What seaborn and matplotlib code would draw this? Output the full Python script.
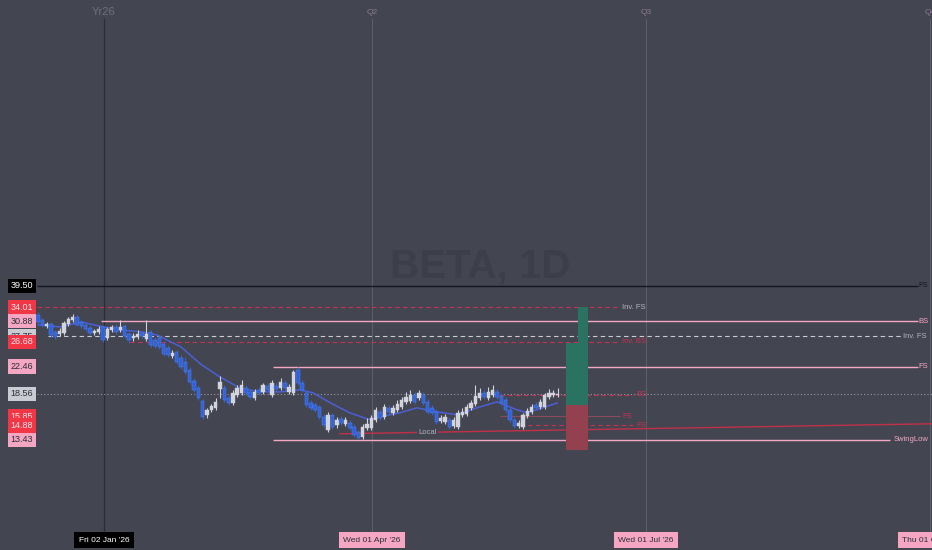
import numpy as np
import pandas as pd
import matplotlib
matplotlib.use("Agg")
import matplotlib.pyplot as plt
import matplotlib.transforms as mtransforms
import seaborn as sns

# ----------------------
# Candles (daily bars, bar index 0..120)
# ----------------------
opens = [32.24, 31.13, 29.85, 30.27, 28.62, 28.22, 28.42, 30.27, 31.13, 31.79,
         30.69, 30.06, 29.43, 28.42, 28.62, 29.64, 27.44, 29.02, 29.64, 29.02,
         29.85, 28.22, 27.44, 27.63, 28.42, 27.25, 28.62, 27.06, 27.44, 26.31,
         25.59, 24.19, 24.88, 23.86, 23.20, 21.94, 20.31, 19.34, 17.66, 16.02,
         16.59, 16.82, 19.21, 19.34, 18.04, 17.42, 18.42, 18.68, 19.34, 18.81,
         18.04, 19.08, 18.81, 19.62, 18.42, 19.62, 19.34, 20.03, 18.81, 18.68,
         21.94, 20.03, 18.68, 17.42, 17.18, 16.94, 15.79, 14.42, 16.02, 14.93,
         15.57, 15.04, 15.14, 14.72, 14.22, 13.73, 14.62, 14.62, 15.46, 16.36,
         15.79, 16.82, 16.24, 16.59, 16.94, 17.54, 17.66, 18.42, 18.04, 18.42,
         17.54, 16.82, 16.36, 15.36, 15.25, 15.46, 14.83, 14.72, 16.02, 16.13,
         16.82, 17.30, 18.04, 18.68, 18.04, 18.42, 18.81, 18.29, 17.79, 16.59,
         15.46, 14.83, 14.72, 15.90, 16.36, 17.18, 16.94, 16.94, 18.17, 18.42, 18.42]
highs = [32.92, 31.56, 30.69, 30.69, 29.02, 29.43, 30.91, 31.79, 32.46, 32.24,
         31.13, 30.48, 30.06, 29.23, 29.85, 30.06, 29.64, 30.06, 30.27, 31.13,
         30.27, 28.62, 28.42, 29.02, 28.82, 31.13, 29.02, 27.63, 27.83, 26.87,
         26.13, 25.23, 25.23, 24.36, 24.03, 22.40, 20.75, 19.75, 17.91, 16.82,
         17.30, 18.04, 21.04, 19.75, 18.42, 19.08, 19.75, 20.46, 19.75, 19.21,
         19.21, 19.48, 20.03, 20.03, 20.46, 20.03, 20.75, 20.46, 19.89, 21.94,
         22.40, 20.46, 19.08, 17.79, 17.54, 17.18, 16.13, 16.36, 16.24, 15.79,
         15.90, 15.79, 15.46, 15.04, 14.42, 15.04, 15.68, 16.02, 16.94, 16.70,
         17.30, 17.18, 17.18, 17.79, 18.17, 18.81, 19.08, 18.81, 19.08, 18.81,
         17.91, 17.18, 16.70, 16.02, 16.13, 15.79, 15.79, 16.59, 16.82, 17.30,
         17.79, 19.75, 19.34, 19.08, 19.48, 19.75, 19.21, 18.68, 18.17, 16.94,
         15.79, 15.46, 16.24, 16.82, 17.30, 17.54, 17.91, 18.68, 19.21, 19.08, 19.34]
lows = [30.27, 29.64, 29.43, 27.63, 27.25, 27.83, 28.02, 29.85, 30.69, 29.85,
        29.43, 28.82, 28.02, 28.02, 28.22, 26.68, 27.06, 28.62, 28.22, 28.62,
        27.44, 26.50, 26.87, 27.25, 27.44, 26.87, 25.77, 25.59, 25.41, 24.19,
        24.03, 23.86, 22.88, 22.09, 21.33, 19.89, 18.81, 17.79, 15.57, 15.68,
        16.36, 16.59, 18.04, 17.54, 17.18, 17.18, 18.17, 18.42, 18.42, 17.91,
        17.79, 18.42, 18.55, 18.81, 18.17, 18.94, 19.08, 19.08, 18.55, 18.42,
        19.75, 18.81, 16.94, 16.59, 16.36, 15.57, 14.72, 14.22, 14.52, 14.62,
        14.93, 14.83, 14.42, 13.73, 13.50, 13.54, 14.42, 14.42, 15.25, 15.46,
        15.57, 16.13, 16.02, 16.36, 16.70, 17.30, 17.42, 17.30, 17.79, 17.18,
        16.13, 16.02, 15.04, 15.14, 15.04, 14.52, 14.62, 14.52, 15.79, 15.90,
        16.59, 17.06, 17.79, 17.91, 17.79, 18.17, 17.91, 17.18, 16.36, 15.25,
        14.62, 14.62, 14.52, 15.68, 16.13, 16.59, 16.70, 16.70, 17.91, 18.17, 18.17]
closes = [30.69, 30.06, 30.27, 28.02, 27.63, 28.82, 30.48, 31.34, 31.79, 30.06,
          29.85, 29.23, 28.42, 28.82, 29.23, 27.06, 29.23, 29.64, 28.62, 29.64,
          27.83, 27.06, 27.83, 28.22, 27.83, 28.22, 26.13, 25.95, 25.77, 24.54,
          24.36, 24.71, 23.20, 22.40, 21.63, 20.17, 19.08, 18.04, 15.79, 16.59,
          17.06, 17.54, 20.17, 17.79, 17.42, 18.68, 19.34, 19.75, 18.68, 18.17,
          18.81, 18.68, 19.75, 19.08, 20.03, 19.21, 20.17, 19.34, 19.48, 21.63,
          20.03, 19.08, 17.18, 16.82, 16.59, 15.79, 14.93, 16.02, 14.72, 15.46,
          15.14, 15.46, 14.62, 13.92, 13.63, 14.72, 15.04, 15.68, 16.59, 15.68,
          16.94, 16.36, 16.82, 17.30, 17.79, 18.17, 18.42, 17.54, 18.68, 17.42,
          16.36, 16.24, 15.25, 15.68, 15.79, 14.72, 15.46, 16.24, 16.36, 16.94,
          17.42, 18.29, 18.68, 18.17, 18.81, 19.08, 18.17, 17.42, 16.59, 15.46,
          14.83, 15.14, 16.02, 16.47, 16.94, 16.82, 17.54, 18.42, 18.68, 18.68, 18.56]

# moving average
ma_bar = [0, 5, 10, 14, 19, 24, 27.5, 33, 37.5, 42, 46.5, 51, 56, 60.5, 63.5,
          67.5, 72, 76.7, 79, 83.6, 87.5, 92, 96.8, 101.4, 106, 110.6, 113, 116.6, 120]
ma_val = [30.06, 29.64, 30.69, 29.85, 29.02, 28.62, 28.02, 25.77, 22.88, 20.89,
          19.34, 18.81, 18.81, 19.08, 18.68, 17.42, 16.24, 15.46, 15.79, 16.24,
          16.82, 16.36, 16.02, 16.82, 17.54, 16.59, 16.24, 16.82, 17.42]

# price scale labels
label_values = [39.50, 34.01, 30.88, 27.75, 26.68, 22.46, 18.56, 15.85, 14.88, 13.43]
label_kinds = ["black", "red", "pink", "gray", "red", "pink", "gray", "red", "red", "pink"]

# zone levels
bs_level = 18.45
trend_bars = [69.7, 206.5]
trend_vals = [14.02, 15.04]

# position tool
pos_entry = 17.18
pos_target = 34.01
pos_mid = 26.50
pos_stop = 12.52

# time axis
date_bars = [15.2, 77.1, 140.4, 206.0]
date_labels = ["Fri 02 Jan '26", "Wed 01 Apr '26", "Wed 01 Jul '26", "Thu 01 Oct '26"]
top_labels = ["Yr26", "Q2", "Q3", "Q4"]

# ----------------------
# Style
# ----------------------
BG = "#434651"
UP = "#d1d4dc"
DOWN = "#2f62dc"
PINK = "#f4a6c3"
RED = "#f23645"
REDLINE = "#c83252"
GRAYTXT = "#b2b5be"

sns.set_theme(style="dark", rc={"axes.facecolor": BG, "figure.facecolor": BG})
plt.rcParams["font.family"] = ["Liberation Sans", "DejaVu Sans"]

fig = plt.figure(figsize=(9.32, 5.5), dpi=100)
ax = fig.add_axes([0, 0, 1, 1])
ax.set_facecolor(BG)
ax.set_yscale("log")
ax.set_xlim(-8.8, 206.5)
ax.set_ylim(6.21, 293)
ax.set_xticks([])
ax.set_yticks([])
ax.minorticks_off()
for s in ax.spines.values():
    s.set_visible(False)

xt = mtransforms.blended_transform_factory(ax.transData, ax.transAxes)

# watermark
ax.text(0.515, 0.515, "BETA, 1D", transform=ax.transAxes, ha="center", va="center",
        fontsize=29, fontweight="bold", color="#3c3f49", zorder=0)

# ----------------------
# Vertical time lines
# ----------------------
for i, b in enumerate(date_bars):
    ax.axvline(b, ymin=0.03, ymax=0.965, color="#2a2d35" if i == 0 else "#5d606b",
               lw=0.9 if i == 0 else 0.7, zorder=1)
ax.text(date_bars[0], 0.978, top_labels[0], transform=xt, ha="center", va="center",
        fontsize=8, color="#6e717c")
for b, t in zip(date_bars[1:], top_labels[1:]):
    ax.text(b, 0.978, t, transform=xt, ha="center", va="center", fontsize=6, color="#8c7a92")

for i, (b, t) in enumerate(zip(date_bars, date_labels)):
    ax.text(b, 0.018, t, transform=xt, ha="center", va="center", fontsize=6,
            color="white" if i == 0 else "#2a2e39",
            bbox=dict(boxstyle="square,pad=0.55", fc="black" if i == 0 else PINK, ec="none"))

# ----------------------
# Levels
# ----------------------
ax.hlines(label_values[0], -0.2, 203.2, color="#131722", lw=1.0, zorder=2)
ax.hlines(label_values[1], -0.2, 133.7, color=REDLINE, lw=0.8, linestyles=(0, (4, 3)), zorder=2)
ax.hlines(label_values[2], 14.5, 203.2, color=PINK, lw=1.0, zorder=2)
ax.hlines(label_values[3], 2.3, 199.8, color="#c9ccd3", lw=0.8, linestyles=(0, (4, 3)), zorder=2)
ax.hlines(label_values[4], 21.2, 133.7, color=REDLINE, lw=0.8, linestyles=(0, (4, 3)), zorder=2)
ax.hlines(label_values[5], 54.3, 203.2, color=PINK, lw=1.0, zorder=2)
ax.hlines(label_values[6], -0.2, 206.5, color="#9598a1", lw=0.8, linestyles=(0, (1, 2)), zorder=2)
ax.hlines(bs_level, 106.7, 137.4, color=REDLINE, lw=0.8, linestyles=(0, (4, 3)), zorder=2)
ax.hlines(label_values[7], 106.7, 134.4, color="#8a4a5c", lw=0.8, zorder=2)
ax.hlines(label_values[8], 111.3, 137.4, color=REDLINE, lw=0.8, linestyles=(0, (4, 3)), zorder=2)
ax.hlines(label_values[9], 54.3, 196.8, color=PINK, lw=1.0, zorder=2)
ax.plot(trend_bars, trend_vals, color="#c23048", lw=1.0, zorder=2)
ax.text(90.0, 14.14, "Local", ha="center", va="center", fontsize=5.5, color=GRAYTXT,
        bbox=dict(boxstyle="square,pad=0.2", fc=BG, ec="none"), zorder=3)

# right-hand level names
ax.text(205.6, label_values[0], "FS", ha="right", va="center", fontsize=5.5, color="#131722")
ax.text(205.6, label_values[2], "BS", ha="right", va="center", fontsize=5.5, color=PINK)
ax.text(205.3, label_values[3], "Inv. FS", ha="right", va="center", fontsize=5.5, color=GRAYTXT)
ax.text(205.6, label_values[5], "FS", ha="right", va="center", fontsize=5.5, color=PINK)
ax.text(205.6, label_values[9], "SwingLow", ha="right", va="center", fontsize=5.5, color=PINK)

# zone names
ax.text(134.9, label_values[1], "Inv. FS", ha="left", va="center", fontsize=5.5, color=GRAYTXT)
ax.text(134.9, label_values[4], "Inv. BS", ha="left", va="center", fontsize=5.5, color=REDLINE)
ax.text(138.1, bs_level, "BS", ha="left", va="center", fontsize=5.5, color=REDLINE)
ax.text(134.9, label_values[7], "FS", ha="left", va="center", fontsize=5.5, color=REDLINE)
ax.text(138.1, label_values[8], "FS", ha="left", va="center", fontsize=5.5, color=REDLINE)

# ----------------------
# Position tool
# ----------------------
ax.fill_between([124.7, 127.0], pos_entry, pos_target, color="#2a7362", lw=0, zorder=2)
ax.fill_between([121.9, 127.0], pos_entry, pos_mid, color="#2a7362", lw=0, zorder=2)
ax.fill_between([121.9, 127.0], pos_stop, pos_entry, color="#93404f", lw=0, zorder=2)

# ----------------------
# Candles
# ----------------------
df = pd.DataFrame({"open": opens, "high": highs, "low": lows, "close": closes})
df["bar"] = np.arange(len(df))
up = df["close"] >= df["open"]
colors = np.where(up, UP, DOWN)
body_lo = df[["open", "close"]].min(axis=1)
body_hi = df[["open", "close"]].max(axis=1)
ax.vlines(df["bar"], df["low"], df["high"], colors=colors, lw=0.8, zorder=4)
ax.bar(df["bar"], np.maximum(body_hi - body_lo, 0.06), bottom=body_lo, width=0.8,
       color=colors, edgecolor=np.where(up, UP, "#5a86f0"), linewidth=0.3, zorder=5)

ma = pd.DataFrame({"bar": ma_bar, "ma": ma_val})
sns.lineplot(data=ma, x="bar", y="ma", ax=ax, color="#4b5fd6", lw=1.1, zorder=3,
             estimator=None, sort=False)
ax.set_xlabel("")
ax.set_ylabel("")

# ----------------------
# Price scale labels
# ----------------------
box_style = {
    "black": ("black", "white"),
    "red": (RED, "#ffe8ec"),
    "pink": (PINK, "#2a2e39"),
    "gray": ("#c9ccd3", "#2a2e39"),
}
for k in range(len(label_values)):
    fc, tc = box_style[label_kinds[k]]
    ax.text(-3.7, label_values[k], f"{label_values[k]:.2f}", ha="center", va="center",
            fontsize=6.5, color=tc, zorder=10,
            bbox=dict(boxstyle="square,pad=0.3", fc=fc, ec="none"))

fig.savefig("out.png", dpi=100, facecolor=BG)
